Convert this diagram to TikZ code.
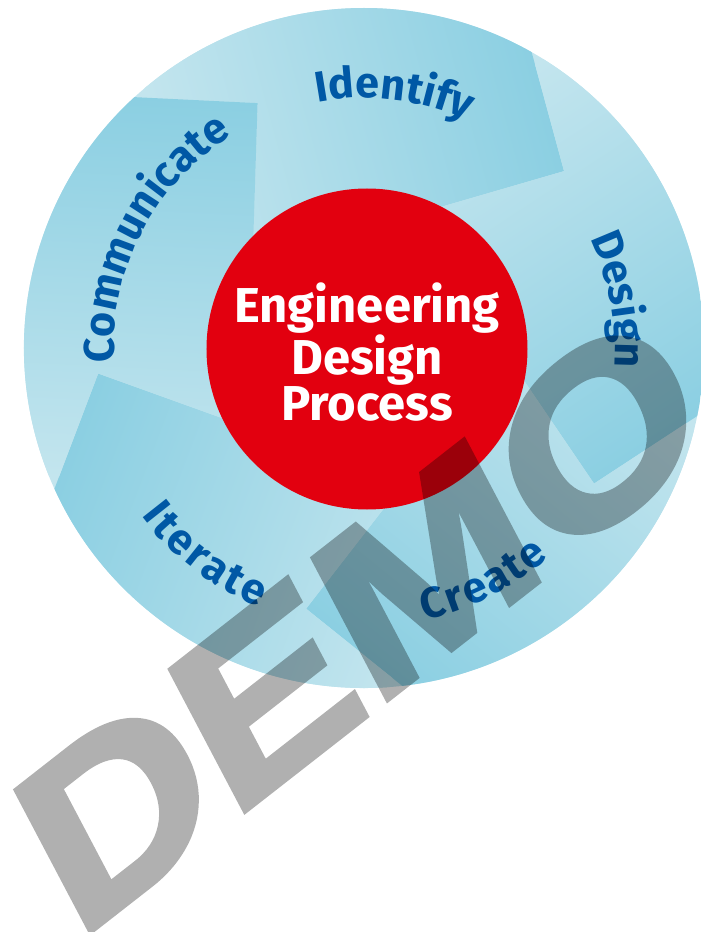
\documentclass[tikz,border=0pt]{standalone}
\usepackage{fontspec}
\usetikzlibrary{decorations.text}
\newfontfamily\lblfont{Fira Sans}
\newfontfamily\wmfont[FakeBold=2.5]{Liberation Sans}
\definecolor{ringlight}{HTML}{C3E5EE}
\definecolor{ringdark}{HTML}{8BCFE2}
\definecolor{hubred}{HTML}{E2000F}
\definecolor{labblue}{HTML}{0058A5}
\newcommand\stagefont{\lblfont\bfseries\fontsize{43}{43}\selectfont}
\tikzset{
  stagetext/.style={decorate, decoration={text along path, text={|\stagefont|#1},
      text align=fit to path, text color=labblue}},
}
\begin{document}
\begin{tikzpicture}[x=1pt,y=1pt]
\useasboundingbox (-364,-584) rectangle (337,348);
% outer disc
\fill[ringlight] (0,0) circle[radius=340];
% five arrow blocks, each turned by 72 degrees, shaded light (tail) to dark (head)
\foreach \k in {0,...,4}{
  \begin{scope}[transform canvas={rotate=-72*\k}]
    \clip (0,0) circle[radius=340];
    \clip (0,0) -- (-112.4,55.0) -- (-106.4,244.9) -- (-426.1,260.4) -- (-100,600)
          -- (116,485.7) -- (200,176.9) -- (17.6,123.9) -- cycle;
    \begin{scope}[transform canvas={rotate=15.2}]
      \shade[left color=ringlight, right color=ringdark] (-144,-700) rectangle (240,700);
    \end{scope}
  \end{scope}
}
% hub
\node[circle, fill=hubred, minimum size=321pt, inner sep=0pt] (hub) at (3,-1) {};
\node[align=center, text=white, inner sep=0pt,
      font=\lblfont\bfseries\fontsize{49}{46.8}\selectfont] (title) at (3,-4.3)
      {Engineering\\Design\\Process};
% stage labels along the ring
\path[stagetext=Identify] (100.7:250) arc[start angle=100.7, end angle=67.6, radius=250];
\path[stagetext=Design] (25.9:251) arc[start angle=25.9, end angle=-2, radius=251];
\path[stagetext=Create] (-77.4:279) arc[start angle=-77.4, end angle=-48.6, radius=279];
\path[stagetext=Iterate] (217:279) arc[start angle=217, end angle=248, radius=279];
\path[stagetext=Communicate] (183.4:250) arc[start angle=183.4, end angle=123, radius=250];
% watermark, drawn opaque inside a group that is then made translucent
\begin{scope}[transparency group, opacity=0.31]
  \node[anchor=base west, inner sep=0pt, outer sep=0pt, text=black,
        font=\wmfont\bfseries\fontsize{228}{228}\selectfont,
        rotate=38, xslant=0.18, xscale=1.19] (wm) at (-287,-594) {DEMO};
\end{scope}
\end{tikzpicture}
\end{document}
